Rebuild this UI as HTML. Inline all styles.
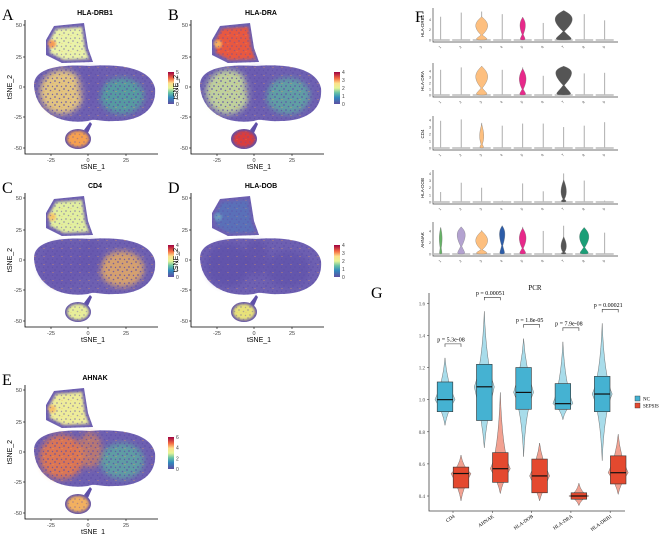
<!DOCTYPE html>
<html><head><meta charset="utf-8"><style>
body{margin:0;background:#fff;width:669px;height:535px;overflow:hidden}
svg{display:block;font-family:"Liberation Sans",sans-serif}
.serif{font-family:"Liberation Serif",serif}
</style></head><body>
<svg id="fig" width="669" height="535" viewBox="0 0 669 535">
<defs>
<filter id="bl" x="-20%" y="-20%" width="140%" height="140%"><feGaussianBlur stdDeviation="3"/></filter>
<filter id="bl2"><feGaussianBlur stdDeviation="1.2"/></filter>
<pattern id="speck" width="9" height="8" patternUnits="userSpaceOnUse">
<circle cx="1" cy="1" r="0.9" fill="#5e4fa8"/><circle cx="5.5" cy="2.5" r="0.8" fill="#5e4fa8"/><circle cx="3" cy="6" r="0.9" fill="#5e4fa8"/><circle cx="7.5" cy="6.5" r="0.7" fill="#5e4fa8"/><circle cx="8" cy="3.5" r="0.5" fill="#f0a050"/>
</pattern>
<linearGradient id="cbar" x1="0" y1="1" x2="0" y2="0">
<stop offset="0" stop-color="#5e4fa2"/><stop offset="0.2" stop-color="#3288bd"/><stop offset="0.35" stop-color="#66c2a5"/><stop offset="0.5" stop-color="#e6f598"/><stop offset="0.65" stop-color="#fee08b"/><stop offset="0.8" stop-color="#f46d43"/><stop offset="1" stop-color="#9e0142"/></linearGradient>
</defs>
<g id="tsne"></g>
<g id="violins"></g>
<g id="pcr"></g>
</svg>
<script>
const NS="http://www.w3.org/2000/svg";
function mk(p,tag,at,txt){const e=document.createElementNS(NS,tag);for(const k in at)e.setAttribute(k,at[k]);if(txt!==undefined)e.textContent=txt;p.appendChild(e);return e;}

/* ---------- tSNE panels ---------- */
const tsnePanels=[
 {letter:"A",title:"HLA-DRB1",dx:0,dy:0,ticks:["5","4","3","2","1","0"],top:"#eaf2a8",left:"#f7d67a",right:"#4fae9c",bottom:"#f6a050",main:"#6a5ab0",topAlt:"#f79a55"},
 {letter:"B",title:"HLA-DRA",dx:166,dy:0,ticks:["4","3","2","1","0"],top:"#e8583f",left:"#cfe59a",right:"#5bb3a0",bottom:"#d93c3c",main:"#6a5ab0",topAlt:"#f7b25e"},
 {letter:"C",title:"CD4",dx:0,dy:173,ticks:["4","3","2","1","0"],top:"#e2efa0",left:"#6a5ab0",right:"#f6b65c",bottom:"#e8ee9a",main:"#6555ad",topAlt:"#f5c76a"},
 {letter:"D",title:"HLA-DOB",dx:166,dy:173,ticks:["4","3","2","1","0"],top:"#5a6fb8",left:"#6152ab",right:"#6152ab",bottom:"#e8e27a",main:"#5e4fa8",topAlt:"#6a9ac0"},
 {letter:"E",title:"AHNAK",dx:0,dy:365,ticks:["6","4","2","0"],top:"#eeec9a",left:"#ef7a45",right:"#5ab0a0",bottom:"#f2b060",main:"#e8874c",topAlt:"#f6c06a"}
];
const mainD="M34,85 C34,68 60,64 90,66 C115,64 150,66 155,88 C157,110 140,121 115,121 C100,122 95,118 88,121 C60,125 35,112 34,85Z";
const topD="M46,40 L54,26 L84,23 L88,48 L93,62 L62,63 L46,55Z";
const T=document.getElementById('tsne');
tsnePanels.forEach(p=>{
 const g=mk(T,'g',{transform:`translate(${p.dx},${p.dy})`});
 
 
 mk(g,'text',{x:2,y:20,'font-size':16,class:'serif',},p.letter);
 mk(g,'text',{x:95,y:15,'font-size':7,'font-weight':'bold','text-anchor':'middle',},p.title);
 const c=mk(g,'g',{});
 mk(c,'path',{d:mainD,fill:"#5e4fa8",opacity:0.9});
 mk(c,'path',{d:topD,fill:"#5e4fa8",opacity:0.9});
 mk(c,'ellipse',{cx:78,cy:139,rx:13,ry:10,fill:"#5e4fa8"});
 mk(c,'path',{d:"M84,130 L90,122 L92,124 L88,133Z",fill:"#5e4fa8"});
 mk(c,'path',{d:"M50,40 L56,29 L82,27 L85,48 L89,59 L64,60 L50,53Z",fill:p.top,filter:"url(#bl2)"});
 mk(c,'circle',{cx:52,cy:44,r:4,fill:p.topAlt,filter:"url(#bl2)"});
 mk(c,'ellipse',{cx:62,cy:92,rx:22,ry:22,fill:p.left,filter:"url(#bl)",opacity:0.85});
 mk(c,'ellipse',{cx:122,cy:96,rx:22,ry:18,fill:p.right,filter:"url(#bl)",opacity:0.75});
 mk(c,'ellipse',{cx:90,cy:85,rx:12,ry:18,fill:p.main,filter:"url(#bl)",opacity:0.6});
 mk(c,'ellipse',{cx:78,cy:139,rx:11,ry:8,fill:p.bottom,filter:"url(#bl2)"});
 // speckle texture
 mk(c,'path',{d:mainD,fill:"url(#speck)",opacity:0.8});
 mk(c,'path',{d:topD,fill:"url(#speck)",opacity:0.5});
 mk(c,'ellipse',{cx:78,cy:139,rx:13,ry:10,fill:"url(#speck)",opacity:0.4});
 mk(g,'path',{d:"M25,20 V154 H158",fill:'none',stroke:'#000','stroke-width':0.8,});
 [["-25",51],["0",88],["25",126]].forEach(t=>{mk(g,'line',{x1:t[1],x2:t[1],y1:154,y2:156,stroke:'#000','stroke-width':0.6});mk(g,'text',{x:t[1],y:162,'font-size':5.5,fill:'#444','text-anchor':'middle'},t[0]);});
 [["50",25],["25",57],["0",87],["-25",117],["-50",148]].forEach(t=>{mk(g,'line',{x1:23,x2:25,y1:t[1],y2:t[1],stroke:'#000','stroke-width':0.6});mk(g,'text',{x:22,y:t[1]+2,'font-size':5.5,fill:'#444','text-anchor':'end'},t[0]);});
 mk(g,'text',{x:93,y:169,'font-size':7,'text-anchor':'middle',},'tSNE_1');
 mk(g,'text',{x:0,y:0,'font-size':7,'text-anchor':'middle',transform:'translate(12,87) rotate(-90)',},'tSNE_2');
 const lg=mk(g,'g',{});
 mk(lg,'rect',{x:168,y:72,width:6,height:32,fill:'url(#cbar)'});
 p.ticks.forEach((t,i)=>{const yy=72+ i*32/(p.ticks.length-1);mk(lg,'text',{x:176,y:yy+2,'font-size':5,fill:'#444'},t);});
});

/* ---------- Violin panel F ---------- */
const fGenes=["HLA-DRB1","HLA-DRA","CD4","HLA-DOB","AHNAK"];
const fClusters=["1","2","3","4","5","6","7","8","9"];
const fLineMax=[
 [4.5,5.3,5.5,5.0,4.4,3.3,5.7,5.0,3.8],
 [4.2,4.6,4.8,4.2,4.6,3.2,4.8,3.6,3.7],
 [3.9,4.1,3.6,3.2,3.5,3.5,3.0,3.2,3.7],
 [1.4,2.7,2.0,0.2,2.6,1.5,4.0,3.0,0.2],
 [4.6,4.7,4.1,4.9,4.7,4.0,4.9,4.6,3.7]];
const fViolinCenter=[
 [0,0,2.7,0,2.9,0,4.1,0,0],
 [0,0,3.0,0,2.6,0,3.9,0,0],
 [0,0,1.6,0,0,0,0,0,0],
 [0,0,0,0,0,0,1.3,0,0],
 [2.8,3.4,2.2,3.6,2.7,0,1.2,3.0,0]];
const fViolinWidth=[
 [0,0,9,0,4,0,13,0,0],
 [0,0,9,0,5,0,12,0,0],
 [0,0,3,0,0,0,0,0,0],
 [0,0,0,0,0,0,4,0,0],
 [2,6,9,4,5,0,4,7,0]];
const colColor=["#66b266","#b3a2d0","#fdbf7f","#2c5ca8","#e7298a","#999","#555555","#1b9e77","#999"];
const fBase=[40,95,148,202,254], fYmax=[5.8,5,4.3,4.2,5.2];
const fTicks=[[0,2,4],[0,1,2,3,4],[0,1,2,3,4],[0,1,2,3,4],[0,2,4]];
const fx=i=>440.7+i*20.5;
const V=document.getElementById('violins');
mk(V,'text',{x:415,y:22,'font-size':16,class:'serif',},'F');
fGenes.forEach((gname,r)=>{
 const g=mk(V,'g',{});
 
 
 const base=fBase[r], h=30, sy=v=>base-v/fYmax[r]*h;
 mk(g,'path',{d:`M433,${base-32} V${base+2} H618`,fill:'none',stroke:'#444','stroke-width':0.7});
 fTicks[r].forEach(t=>{mk(g,'text',{x:431,y:sy(t)+1.5,'font-size':3.5,fill:'#444','text-anchor':'end'},t);});
 mk(g,'text',{x:0,y:0,'font-size':4.5,'text-anchor':'middle',transform:`translate(424,${base-14}) rotate(-90)`},gname);
 fClusters.forEach((cl,i)=>{
  const x=fx(i);
  mk(g,'line',{x1:x,x2:x,y1:base,y2:sy(fLineMax[r][i]),stroke:'#999','stroke-width':0.8});
  mk(g,'line',{x1:x-9,x2:x+9,y1:base,y2:base,stroke:'#bbb','stroke-width':1.6});
  mk(g,'text',{x:0,y:0,'font-size':3.5,fill:'#444','text-anchor':'middle',transform:`translate(${x},${base+8}) rotate(-45)`},cl);
  const w=fViolinWidth[r][i];
  if(w>0){
   const c=sy(fViolinCenter[r][i]), col=colColor[i];
   const top=sy(Math.min(fLineMax[r][i],fViolinCenter[r][i]+1.8)), bot=base;
   const vp=mk(g,'path',{d:`M${x},${top} C${x+w*0.6},${(top+c)/2} ${x+w*1.1},${c} ${x+0.6},${(c+bot)/2+2} C${x+w*0.5},${bot-2} ${x+w},${bot} ${x},${bot} C${x-w},${bot} ${x-w*0.5},${bot-2} ${x-0.6},${(c+bot)/2+2} C${x-w*1.1},${c} ${x-w*0.6},${(top+c)/2} ${x},${top}Z`,fill:col,stroke:'#666','stroke-width':0.3});
   
   
  }
 });
});

/* ---------- PCR panel G ---------- */
const genes=["CD4","AHNAK","HLA-DOB","HLA-DRA","HLA-DRB1"];
const ncMin=[0.84,0.70,0.645,0.875,0.62], ncQ1=[0.925,0.87,0.94,0.94,0.925], ncMed=[1.0,1.08,1.045,0.975,1.035], ncQ3=[1.11,1.22,1.20,1.10,1.145], ncMax=[1.26,1.55,1.38,1.36,1.475];
const spMin=[0.37,0.415,0.37,0.34,0.41], spQ1=[0.45,0.485,0.42,0.38,0.475], spMed=[0.54,0.57,0.525,0.40,0.545], spQ3=[0.58,0.67,0.63,0.42,0.65], spMax=[0.655,1.045,0.73,0.48,0.785];
const pvals=["p = 5.3e-08","p = 0.00051","p = 1.8e-05","p = 7.9e-08","p = 0.00021"];
const yTicks=[0.4,0.6,0.8,1.0,1.2,1.4,1.6];
const ys=v=>496-(v-0.4)*160.6;
const xs=i=>453+i*39.3;
const G=document.getElementById('pcr');
mk(G,'text',{x:371,y:298,'font-size':16,class:'serif',},'G');
mk(G,'text',{x:535,y:290,'font-size':7,class:'serif','text-anchor':'middle',},'PCR');
mk(G,'path',{d:'M429,293 V511 H625',fill:'none',stroke:'#444','stroke-width':0.8,});
yTicks.forEach(t=>{mk(G,'line',{x1:427,x2:429,y1:ys(t),y2:ys(t),stroke:'#444','stroke-width':0.6});mk(G,'text',{x:425,y:ys(t)+2,'font-size':5,class:'serif',fill:'#444','text-anchor':'end'},t.toFixed(1));});
function box(g,x,mn,q1,md,q3,mx,light,dark,name){
 const b=mk(g,'g',{});
 
 
 const w=10;
 mk(b,'path',{d:`M${x},${ys(mx)} Q${x+2},${ys(q3)} ${x+w},${ys(md)} Q${x+2},${ys(q1)} ${x},${ys(mn)} Q${x-2},${ys(q1)} ${x-w},${ys(md)} Q${x-2},${ys(q3)} ${x},${ys(mx)}Z`,fill:light,stroke:'#555','stroke-width':0.4});
 mk(b,'rect',{x:x-7.8,y:ys(q3),width:15.6,height:ys(q1)-ys(q3),fill:dark,stroke:'#333','stroke-width':0.6});
 mk(b,'line',{x1:x-7.8,x2:x+7.8,y1:ys(md),y2:ys(md),stroke:'#111','stroke-width':1.2});
}
genes.forEach((gn,i)=>{
 const xn=xs(i)-8, xp=xs(i)+8;
 box(G,xn,ncMin[i],ncQ1[i],ncMed[i],ncQ3[i],ncMax[i],'#a8dcea','#45b2d2','box-nc-'+gn.toLowerCase());
 box(G,xp,spMin[i],spQ1[i],spMed[i],spQ3[i],spMax[i],'#f2a191','#e4492f','box-sepsis-'+gn.toLowerCase());
 const by=ys(ncMax[i])-14;
 mk(G,'path',{d:`M${xn},${by+3} V${by} H${xp} V${by+3}`,fill:'none',stroke:'#333','stroke-width':0.6});
 mk(G,'text',{x:xs(i)-2,y:by-2.5,'font-size':6,class:'serif','text-anchor':'middle',},pvals[i]);
 mk(G,'line',{x1:xs(i),x2:xs(i),y1:511,y2:513,stroke:'#444','stroke-width':0.6});
 mk(G,'text',{x:0,y:0,'font-size':5,class:'serif','text-anchor':'end',transform:`translate(${xs(i)+2},517) rotate(-35)`,},gn);
});
const L=mk(G,'g',{});
mk(L,'rect',{x:635,y:396,width:5,height:5,fill:'#45b2d2',stroke:'#333','stroke-width':0.4,});
mk(L,'text',{x:643,y:400.5,'font-size':5,class:'serif'},'NC');
mk(L,'rect',{x:635,y:403,width:5,height:5,fill:'#e4492f',stroke:'#333','stroke-width':0.4,});
mk(L,'text',{x:643,y:407.5,'font-size':5,class:'serif'},'SEPSIS');
</script>
</body></html>
